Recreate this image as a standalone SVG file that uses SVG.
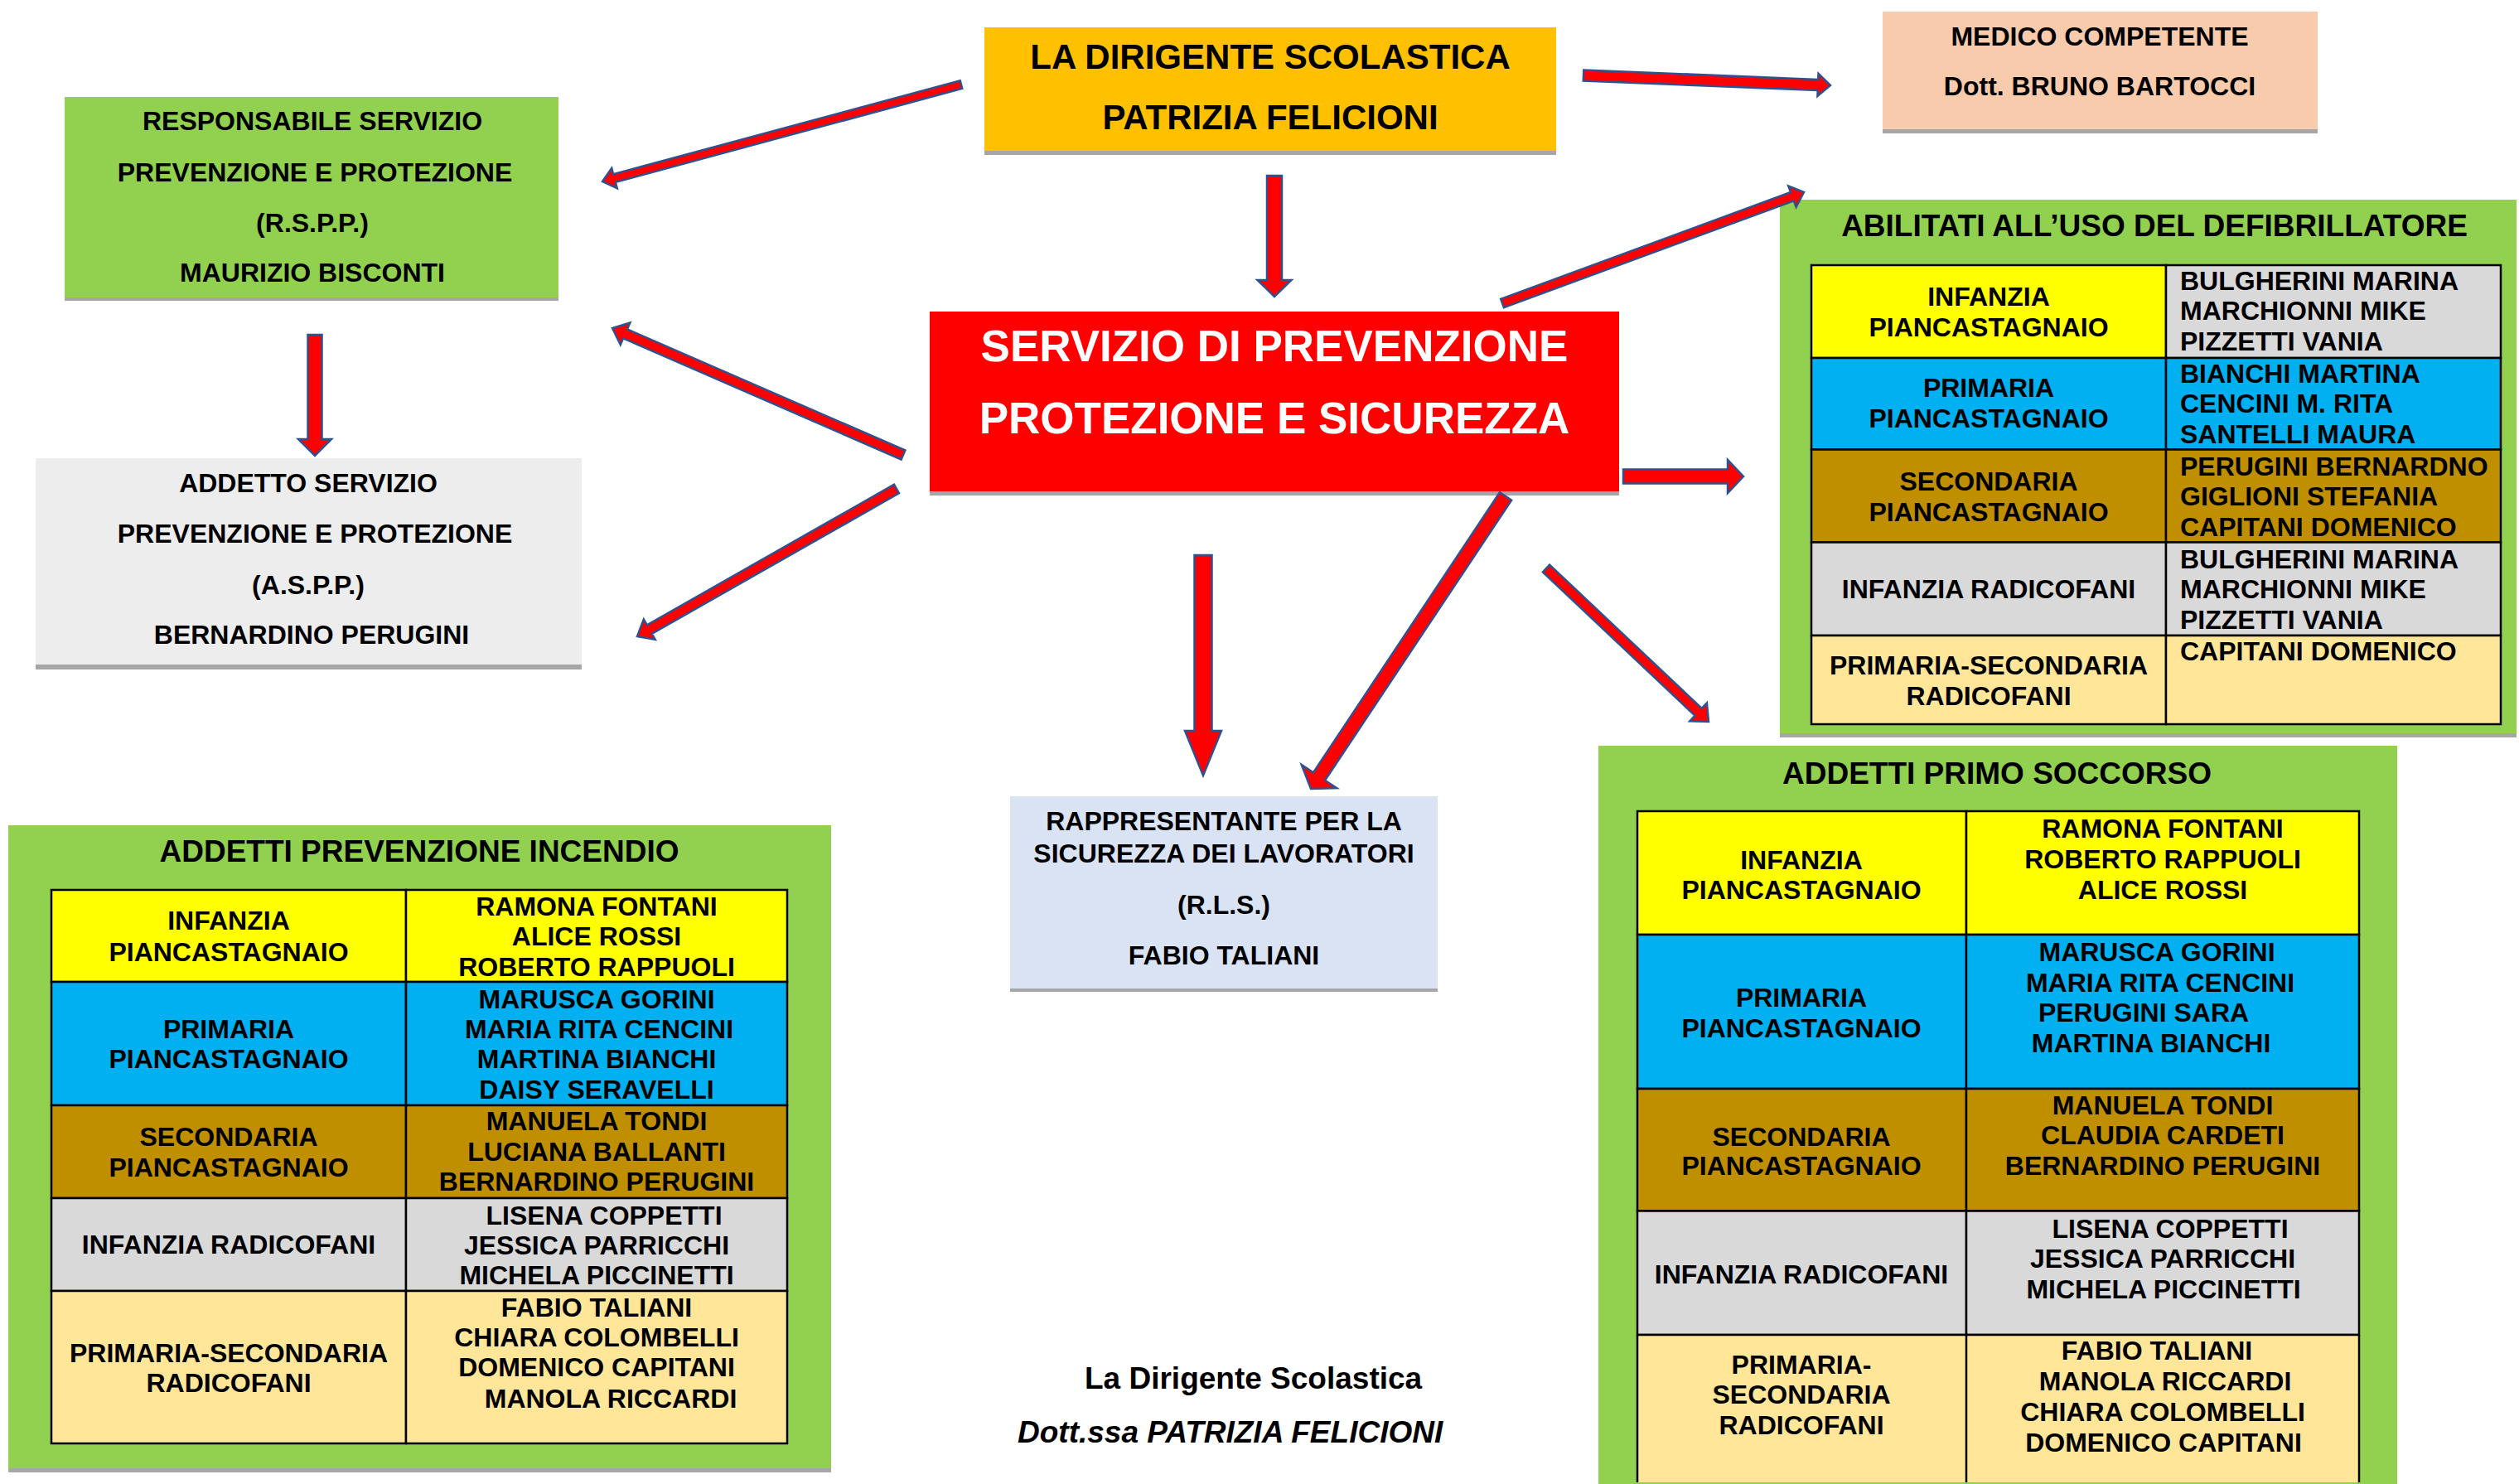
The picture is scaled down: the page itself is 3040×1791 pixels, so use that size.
<svg xmlns="http://www.w3.org/2000/svg" width="3040" height="1791" viewBox="0 0 3040 1791">
<style>
.t{font-family:"Liberation Sans",Arial,sans-serif;font-weight:bold;fill:#000}
.s32{font-size:32px}
.s37{font-size:37px}
.s42{font-size:42px}
.w53{font-size:53px;fill:#fff}
.c{text-anchor:middle}
.i{font-style:italic}
.sh{fill:#A6A6A6}
.cell{stroke:#000;stroke-width:2.5}
.ln{stroke:#000;stroke-width:2.5}
.arr{fill:#FF0000;stroke:#2F528F;stroke-width:2.5;stroke-linejoin:miter}
.yl{fill:#FFFF00}.bl{fill:#00B0F0}.gd{fill:#BF8F00}.gy{fill:#D9D9D9}.lg{fill:#FFE699}.gr{fill:#92D050}
</style>
<rect width="3040" height="1791" fill="#fff"/>

<g id="dirigente">
<rect class="sh" x="1188" y="38" width="690" height="149"/>
<rect x="1188" y="33" width="690" height="149" fill="#FFC000"/>
<text class="t s42 c" x="1533" y="83">LA DIRIGENTE SCOLASTICA</text>
<text class="t s42 c" x="1533" y="156">PATRIZIA FELICIONI</text>
</g>

<g id="rspp">
<rect class="sh" x="78" y="121" width="596" height="242"/>
<rect class="gr" x="78" y="117" width="596" height="242"/>
<text class="t s32 c" x="377" y="157">RESPONSABILE SERVIZIO</text>
<text class="t s32 c" x="380" y="219">PREVENZIONE E PROTEZIONE</text>
<text class="t s32 c" x="377" y="280">(R.S.P.P.)</text>
<text class="t s32 c" x="377" y="340">MAURIZIO BISCONTI</text>
</g>

<g id="aspp">
<rect class="sh" x="43" y="558" width="659" height="250"/>
<rect x="43" y="553" width="659" height="249" fill="#EDEDED"/>
<text class="t s32 c" x="372" y="594">ADDETTO SERVIZIO</text>
<text class="t s32 c" x="380" y="655">PREVENZIONE E PROTEZIONE</text>
<text class="t s32 c" x="372" y="717">(A.S.P.P.)</text>
<text class="t s32 c" x="376" y="777">BERNARDINO PERUGINI</text>
</g>

<g id="servizio">
<rect class="sh" x="1122" y="381" width="832" height="217"/>
<rect x="1122" y="376" width="832" height="217" fill="#FF0000"/>
<text class="t w53 c" x="1538" y="436">SERVIZIO DI PREVENZIONE</text>
<text class="t w53 c" x="1538" y="523">PROTEZIONE E SICUREZZA</text>
</g>

<g id="medico">
<rect class="sh" x="2272" y="19" width="525" height="142"/>
<rect x="2272" y="14" width="525" height="142" fill="#F8CBAD"/>
<text class="t s32 c" x="2534" y="55">MEDICO COMPETENTE</text>
<text class="t s32 c" x="2534" y="115">Dott. BRUNO BARTOCCI</text>
</g>

<g id="defibrillatore">
<rect class="sh" x="2148" y="246" width="889" height="644"/>
<rect class="gr" x="2148" y="241" width="889" height="644"/>
<text class="t s37 c" x="2600" y="285">ABILITATI ALL’USO DEL DEFIBRILLATORE</text>
<rect class="cell yl" x="2186" y="320" width="428" height="112"/>
<rect class="cell gy" x="2614" y="320" width="404" height="112"/>
<rect class="cell bl" x="2186" y="432" width="428" height="110.5"/>
<rect class="cell bl" x="2614" y="432" width="404" height="110.5"/>
<rect class="cell gd" x="2186" y="542.5" width="428" height="112"/>
<rect class="cell gd" x="2614" y="542.5" width="404" height="112"/>
<rect class="cell gy" x="2186" y="654.5" width="428" height="112.5"/>
<rect class="cell gy" x="2614" y="654.5" width="404" height="112.5"/>
<rect class="cell lg" x="2186" y="767" width="428" height="107"/>
<rect class="cell lg" x="2614" y="767" width="404" height="107"/>
<text class="t s32 c" x="2400" y="369">INFANZIA</text>
<text class="t s32 c" x="2400" y="406">PIANCASTAGNAIO</text>
<text class="t s32 c" x="2400" y="479">PRIMARIA</text>
<text class="t s32 c" x="2400" y="516">PIANCASTAGNAIO</text>
<text class="t s32 c" x="2400" y="592">SECONDARIA</text>
<text class="t s32 c" x="2400" y="629">PIANCASTAGNAIO</text>
<text class="t s32 c" x="2400" y="722">INFANZIA RADICOFANI</text>
<text class="t s32 c" x="2400" y="814">PRIMARIA-SECONDARIA</text>
<text class="t s32 c" x="2400" y="851">RADICOFANI</text>
<text class="t s32" x="2631" y="350">BULGHERINI MARINA</text>
<text class="t s32" x="2631" y="386">MARCHIONNI MIKE</text>
<text class="t s32" x="2631" y="423">PIZZETTI VANIA</text>
<text class="t s32" x="2631" y="462">BIANCHI MARTINA</text>
<text class="t s32" x="2631" y="498">CENCINI M. RITA</text>
<text class="t s32" x="2631" y="535">SANTELLI MAURA</text>
<text class="t s32" x="2631" y="574">PERUGINI BERNARDNO</text>
<text class="t s32" x="2631" y="610">GIGLIONI STEFANIA</text>
<text class="t s32" x="2631" y="647">CAPITANI DOMENICO</text>
<text class="t s32" x="2631" y="686">BULGHERINI MARINA</text>
<text class="t s32" x="2631" y="722">MARCHIONNI MIKE</text>
<text class="t s32" x="2631" y="759">PIZZETTI VANIA</text>
<text class="t s32" x="2631" y="797">CAPITANI DOMENICO</text>
</g>

<g id="primo-soccorso">
<rect class="gr" x="1929" y="900" width="964" height="891"/>
<text class="t s37 c" x="2410" y="946">ADDETTI PRIMO SOCCORSO</text>
<rect class="cell yl" x="1976" y="979" width="397" height="149"/>
<rect class="cell yl" x="2373" y="979" width="474" height="149"/>
<rect class="cell bl" x="1976" y="1128" width="397" height="186"/>
<rect class="cell bl" x="2373" y="1128" width="474" height="186"/>
<rect class="cell gd" x="1976" y="1314" width="397" height="147.5"/>
<rect class="cell gd" x="2373" y="1314" width="474" height="147.5"/>
<rect class="cell gy" x="1976" y="1461.5" width="397" height="149.5"/>
<rect class="cell gy" x="2373" y="1461.5" width="474" height="149.5"/>
<rect class="lg" x="1976" y="1611" width="871" height="178"/>
<path class="ln" d="M1976,1611H2847M1976,1611V1789M2373,1611V1789M2847,1611V1789" fill="none"/>
<text class="t s32 c" x="2174" y="1049">INFANZIA</text>
<text class="t s32 c" x="2174" y="1085">PIANCASTAGNAIO</text>
<text class="t s32 c" x="2174" y="1215">PRIMARIA</text>
<text class="t s32 c" x="2174" y="1252">PIANCASTAGNAIO</text>
<text class="t s32 c" x="2174" y="1383">SECONDARIA</text>
<text class="t s32 c" x="2174" y="1418">PIANCASTAGNAIO</text>
<text class="t s32 c" x="2174" y="1549">INFANZIA RADICOFANI</text>
<text class="t s32 c" x="2174" y="1658">PRIMARIA-</text>
<text class="t s32 c" x="2174" y="1694">SECONDARIA</text>
<text class="t s32 c" x="2174" y="1731">RADICOFANI</text>
<text class="t s32 c" x="2610" y="1011">RAMONA FONTANI</text>
<text class="t s32 c" x="2610" y="1048">ROBERTO RAPPUOLI</text>
<text class="t s32 c" x="2610" y="1085">ALICE ROSSI</text>
<text class="t s32 c" x="2603" y="1160">MARUSCA GORINI</text>
<text class="t s32 c" x="2607" y="1197">MARIA RITA CENCINI</text>
<text class="t s32 c" x="2587" y="1233">PERUGINI SARA</text>
<text class="t s32 c" x="2596" y="1270">MARTINA BIANCHI</text>
<text class="t s32 c" x="2610" y="1345">MANUELA TONDI</text>
<text class="t s32 c" x="2610" y="1381">CLAUDIA CARDETI</text>
<text class="t s32 c" x="2610" y="1418">BERNARDINO PERUGINI</text>
<text class="t s32 c" x="2619" y="1494">LISENA COPPETTI</text>
<text class="t s32 c" x="2610" y="1530">JESSICA PARRICCHI</text>
<text class="t s32 c" x="2611" y="1567">MICHELA PICCINETTI</text>
<text class="t s32 c" x="2603" y="1641">FABIO TALIANI</text>
<text class="t s32 c" x="2613" y="1678">MANOLA RICCARDI</text>
<text class="t s32 c" x="2610" y="1715">CHIARA COLOMBELLI</text>
<text class="t s32 c" x="2611" y="1752">DOMENICO CAPITANI</text>
</g>

<g id="prevenzione-incendio">
<rect class="sh" x="10" y="1001" width="993" height="776"/>
<rect class="gr" x="10" y="996" width="993" height="776"/>
<text class="t s37 c" x="506" y="1040">ADDETTI PREVENZIONE INCENDIO</text>
<rect class="cell yl" x="62" y="1074" width="428" height="111"/>
<rect class="cell yl" x="490" y="1074" width="460" height="111"/>
<rect class="cell bl" x="62" y="1185" width="428" height="149"/>
<rect class="cell bl" x="490" y="1185" width="460" height="149"/>
<rect class="cell gd" x="62" y="1334" width="428" height="112"/>
<rect class="cell gd" x="490" y="1334" width="460" height="112"/>
<rect class="cell gy" x="62" y="1446" width="428" height="112"/>
<rect class="cell gy" x="490" y="1446" width="460" height="112"/>
<rect class="cell lg" x="62" y="1558" width="428" height="184"/>
<rect class="cell lg" x="490" y="1558" width="460" height="184"/>
<text class="t s32 c" x="276" y="1122">INFANZIA</text>
<text class="t s32 c" x="276" y="1160">PIANCASTAGNAIO</text>
<text class="t s32 c" x="276" y="1253">PRIMARIA</text>
<text class="t s32 c" x="276" y="1289">PIANCASTAGNAIO</text>
<text class="t s32 c" x="276" y="1383">SECONDARIA</text>
<text class="t s32 c" x="276" y="1420">PIANCASTAGNAIO</text>
<text class="t s32 c" x="276" y="1513">INFANZIA RADICOFANI</text>
<text class="t s32 c" x="276" y="1644">PRIMARIA-SECONDARIA</text>
<text class="t s32 c" x="276" y="1680">RADICOFANI</text>
<text class="t s32 c" x="720" y="1105">RAMONA FONTANI</text>
<text class="t s32 c" x="720" y="1141">ALICE ROSSI</text>
<text class="t s32 c" x="720" y="1178">ROBERTO RAPPUOLI</text>
<text class="t s32 c" x="720" y="1217">MARUSCA GORINI</text>
<text class="t s32 c" x="723" y="1253">MARIA RITA CENCINI</text>
<text class="t s32 c" x="720" y="1289">MARTINA BIANCHI</text>
<text class="t s32 c" x="720" y="1326">DAISY SERAVELLI</text>
<text class="t s32 c" x="720" y="1364">MANUELA TONDI</text>
<text class="t s32 c" x="720" y="1401">LUCIANA BALLANTI</text>
<text class="t s32 c" x="720" y="1437">BERNARDINO PERUGINI</text>
<text class="t s32 c" x="729" y="1478">LISENA COPPETTI</text>
<text class="t s32 c" x="720" y="1514">JESSICA PARRICCHI</text>
<text class="t s32 c" x="720" y="1550">MICHELA PICCINETTI</text>
<text class="t s32 c" x="720" y="1589">FABIO TALIANI</text>
<text class="t s32 c" x="720" y="1625">CHIARA COLOMBELLI</text>
<text class="t s32 c" x="720" y="1661">DOMENICO CAPITANI</text>
<text class="t s32 c" x="737" y="1699">MANOLA RICCARDI</text>
</g>

<g id="rls">
<rect class="sh" x="1219" y="966" width="516" height="231"/>
<rect x="1219" y="961" width="516" height="232" fill="#DAE3F3"/>
<text class="t s32 c" x="1477" y="1002">RAPPRESENTANTE PER LA</text>
<text class="t s32 c" x="1477" y="1041">SICUREZZA DEI LAVORATORI</text>
<text class="t s32 c" x="1477" y="1103">(R.L.S.)</text>
<text class="t s32 c" x="1477" y="1164">FABIO TALIANI</text>
</g>

<g id="firma">
<text class="t s37" x="1309" y="1676">La Dirigente Scolastica</text>
<text class="t s37 i" x="1228" y="1741">Dott.ssa PATRIZIA FELICIONI</text>
</g>

<g id="connectors">
<polygon class="arr" transform="translate(1160,102) rotate(164.88)" points="0,-5 433.5,-5 433.5,-12.5 448.5,0 433.5,12.5 433.5,5 0,5"/>
<polygon class="arr" transform="translate(380,404) rotate(90)" points="0,-8.5 126,-8.5 126,-20 146,0 126,20 126,8.5 0,8.5"/>
<polygon class="arr" transform="translate(1090,549) rotate(-156.45)" points="0,-6 365.9,-6 365.9,-14.5 382.9,0 365.9,14.5 365.9,6 0,6"/>
<polygon class="arr" transform="translate(1082,590) rotate(150.37)" points="0,-6 343.1,-6 343.1,-14 360.1,0 343.1,14 343.1,6 0,6"/>
<polygon class="arr" transform="translate(1538,212) rotate(90)" points="0,-9 126,-9 126,-20.5 146,0 126,20.5 126,9 0,9"/>
<polygon class="arr" transform="translate(1911,91) rotate(2.31)" points="0,-6.5 283.2,-6.5 283.2,-13.5 298.2,0 283.2,13.5 283.2,6.5 0,6.5"/>
<polygon class="arr" transform="translate(1813,366) rotate(-20.21)" points="0,-5.5 372.9,-5.5 372.9,-13.5 387.9,0 372.9,13.5 372.9,5.5 0,5.5"/>
<polygon class="arr" transform="translate(1959,575)" points="0,-8.5 126,-8.5 126,-20 145,0 126,20 126,8.5 0,8.5"/>
<polygon class="arr" transform="translate(1452,670) rotate(90)" points="0,-10.5 212,-10.5 212,-22 266,0 212,22 212,10.5 0,10.5"/>
<polygon class="arr" transform="translate(1817,599) rotate(123.65)" points="0,-8.5 406.1,-8.5 406.1,-25.5 424.1,0 406.1,25.5 406.1,8.5 0,8.5"/>
<polygon class="arr" transform="translate(1866,686) rotate(43.35)" points="0,-6 252.5,-6 252.5,-15 269.5,0 252.5,15 252.5,6 0,6"/>
</g>
</svg>
